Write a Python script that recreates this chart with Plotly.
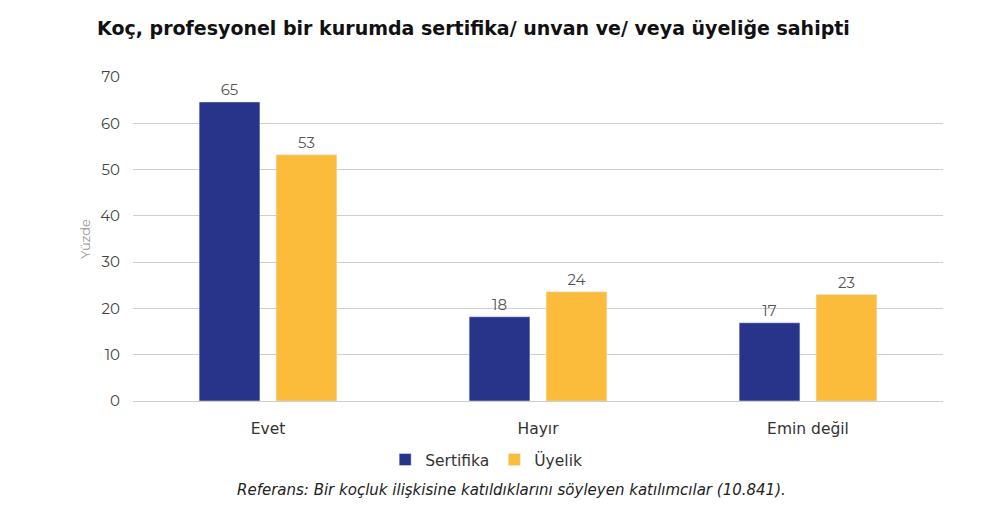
import plotly.graph_objects as go

# Veriler
kategoriler = ["Evet", "Hayır", "Emin değil"]
sertifika = [64.6, 18.2, 16.9]
uyelik = [53.2, 23.6, 23.0]
y_ticks = [0, 10, 20, 30, 40, 50, 60, 70]

etiket_font = dict(family="Montserrat, Open Sans, sans-serif", size=15, color="#555555")

fig = go.Figure()

fig.add_trace(go.Bar(
    x=kategoriler, y=sertifika, name="Sertifika",
    marker_color="#28348a",
    text=sertifika, texttemplate="%{y:.0f}", textposition="outside",
    textfont=etiket_font, cliponaxis=False,
))
fig.add_trace(go.Bar(
    x=kategoriler, y=uyelik, name="Üyelik",
    marker_color="#fbbb3b",
    text=uyelik, texttemplate="%{y:.0f}", textposition="outside",
    textfont=etiket_font, cliponaxis=False,
))

# sayfa 8px kenar boşluğu ile açıldığı için boyutlar biraz küçük
fig.update_layout(
    width=965, height=506,
    plot_bgcolor="white", paper_bgcolor="white",
    margin=dict(l=125, r=30, t=69, b=113),
    barmode="group", bargap=0.43, bargroupgap=0.21,
    title=dict(
        text="Koç, profesyonel bir kurumda sertifika/ unvan ve/ veya üyeliğe sahipti",
        x=89 / 965, xanchor="left", y=1 - 20 / 506, yanchor="middle",
        font=dict(family="DejaVu Sans", size=19, color="#111111", weight="bold"),
    ),
    legend=dict(
        orientation="h", x=0.436, xanchor="center", y=-0.182, yanchor="middle",
        font=dict(family="DejaVu Sans", size=15.5, color="#333333"),
        itemwidth=30, traceorder="normal",
    ),
    showlegend=True,
)

fig.update_xaxes(
    showline=False, showgrid=False, ticks="",
    ticklabelstandoff=16,
    tickfont=dict(family="DejaVu Sans", size=15.5, color="#333333"),
)
fig.update_yaxes(
    range=[0, 70], tickvals=y_ticks,
    showgrid=True, gridcolor="#cfcfcf", gridwidth=1,
    zeroline=True, zerolinecolor="#cfcfcf", zerolinewidth=1,
    tickfont=dict(family="Montserrat, Open Sans, sans-serif", size=15, color="#444444"),
    ticklabelstandoff=12,
    title=dict(text="Yüzde", standoff=6,
               font=dict(family="Montserrat, Open Sans, sans-serif", size=13, color="#999999")),
)

fig.add_annotation(
    text="<i>Referans: Bir koçluk ilişkisine katıldıklarını söyleyen katılımcılar (10.841).</i>",
    xref="paper", yref="paper", x=0.467, y=-0.275, xanchor="center", yanchor="middle",
    showarrow=False,
    font=dict(family="DejaVu Sans", size=15, color="#222222"),
)

fig.write_html("out.html")
